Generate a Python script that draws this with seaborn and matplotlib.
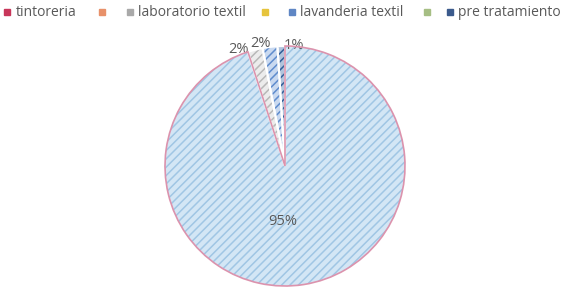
import matplotlib
matplotlib.use("Agg")
import matplotlib.pyplot as plt
import seaborn as sns
from matplotlib.lines import Line2D
import numpy as np

# ---- data ----
categories = ["tintoreria", "laboratorio textil", "lavanderia textil", "pre tratamiento"]
values = [95, 2, 2, 1]
pct_labels = ["95%", "2%", "2%", "1%"]

legend_labels = ["tintoreria", "", "laboratorio textil", "", "lavanderia textil", "", "pre tratamiento"]
legend_colors = ["#c8365a", "#e8916a", "#a9a9a9", "#e6c43c", "#5f86c4", "#a6be84", "#3b5a8c"]

# ---- styles / layout ----
face_colors = ["#d3e6f5", "#ececec", "#c9d9f0", "#b0c3dc"]
hatch_colors = ["#a0c6e4", "#b8b8b8", "#5f8ccd", "#325e98"]
edge_colors = ["#dc93ad", "white", "white", "white"]
edge_widths = [1.2, 1.5, 1.5, 1.5]
text_color = "#595959"
legend_marker_px = [7, 102, 130, 265, 292, 427, 450]  # legend entry x positions (pixels)

sns.set_theme(style="white")
plt.rcParams["font.family"] = ["Open Sans", "DejaVu Sans"]
plt.rcParams["hatch.linewidth"] = 1.1

W, H = 565, 288
fig = plt.figure(figsize=(W / 100, H / 100), dpi=100)
fig.patch.set_facecolor("white")

cx, cy, R = 285, 166, 120  # pixel geometry of the pie
span = 300
ax = fig.add_axes([(cx - span / 2) / W, (H - cy - span / 2) / H, span / W, span / H])

# hatched fill layer
wedges, _ = ax.pie(values, startangle=90, counterclock=False, radius=1,
                   colors=face_colors, wedgeprops=dict(linewidth=0))
for w, hc in zip(wedges, hatch_colors):
    w.set_hatch("////")
    w.set_edgecolor(hc)
    w.set_linewidth(0)

# outline layer
outl, _ = ax.pie(values, startangle=90, counterclock=False, radius=1,
                 colors=["none"] * len(values))
for w, ec, lw in zip(outl, edge_colors, edge_widths):
    w.set_facecolor("none")
    w.set_edgecolor(ec)
    w.set_linewidth(lw)
outl[0].set_zorder(5)

ax.set_xlim(-1.25, 1.25)
ax.set_ylim(-1.25, 1.25)
ax.set_aspect("equal")
ax.axis("off")

# percentage labels (angle nudges in degrees to avoid overlap, like Excel's best fit)
total = float(sum(values))
cum = 0.0
nudges = [-11.0, 7.3, 4.2, -6.0]
radii = [0.46, 1.045, 1.04, 1.005]
for v, lab, nd, r in zip(values, pct_labels, nudges, radii):
    mid = 90 - 360 * (cum + v / 2) / total
    cum += v
    ang = np.deg2rad(mid + nd)
    ax.text(r * np.cos(ang), r * np.sin(ang), lab, ha="center", va="center",
            fontsize=10.5, color=text_color)

# legend entries
fs = 10
for lab, col, xm in zip(legend_labels, legend_colors, legend_marker_px):
    h = Line2D([0], [0], marker="s", linestyle="none", markersize=4,
               markerfacecolor=col, markeredgecolor=col)
    hl = 0.6
    x0 = (xm - hl * fs * 100 / 72 / 2) / W
    leg = fig.legend([h], [lab], loc="center left", bbox_to_anchor=(x0, 1 - 13 / H),
                     frameon=False, fontsize=fs, labelcolor=text_color,
                     handlelength=hl, handletextpad=0.3, borderpad=0,
                     borderaxespad=0)

fig.savefig("out.png", dpi=100, facecolor="white")
